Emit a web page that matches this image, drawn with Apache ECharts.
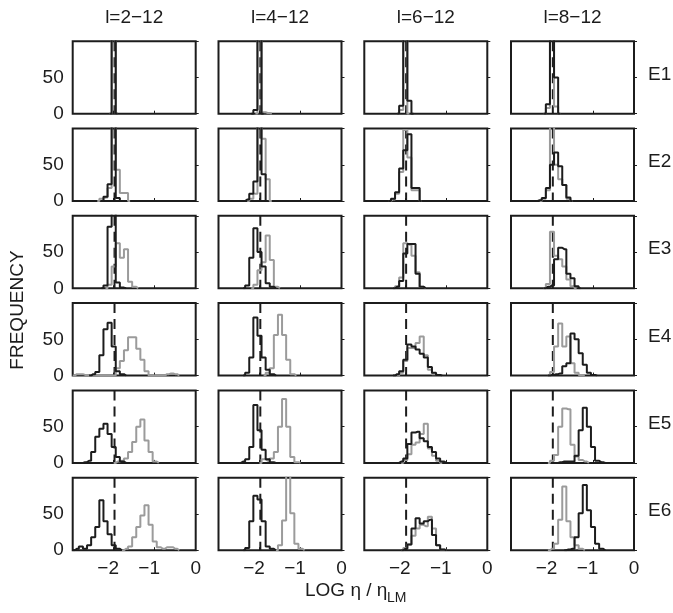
<!DOCTYPE html>
<html>
<head>
<meta charset="utf-8">
<script src="https://cdn.jsdelivr.net/npm/echarts/dist/echarts.min.js"></script>
<style>
  html, body { margin: 0; padding: 0; background: #fff; }
  #chart { width: 673px; height: 613px; }
</style>
</head>
<body>
<div id="chart"></div>
<script>
const colTitles = ['l=2\u221212', 'l=4\u221212', 'l=6\u221212', 'l=8\u221212'];
const rowNames = ['E1', 'E2', 'E3', 'E4', 'E5', 'E6'];
const binWidth = 0.1;
const refLog = -1.98;   // dashed reference line

// one entry per row E1..E6: [first bin centre, counts...]
const blackL2 = [
  [-2.0, 200],
  [-2.2, 6, 23, 200, 4],
  [-2.2, 4, 85, 200, 8, 1],
  [-2.5, 2, 5, 28, 64, 73, 40, 6, 2],
  [-2.7, 1, 3, 15, 36, 47, 54, 40, 22, 8, 2],
  [-2.9, 2, 5, 2, 7, 18, 32, 69, 40, 22, 7, 2]
];
const grayL2 = [
  [-2.0, 200],
  [-2.3, 3, 5, 18, 110, 43, 11, 11],
  [-2.1, 5, 30, 62, 42, 54, 9, 2],
  [-2.9, 2, 2, 1, 0, 0, 0, 0, 0, 0, 0, 10, 20, 35, 53, 53, 37, 22, 6, 0, 0, 0, 0, 2, 3, 2],
  [-1.9, 2, 3, 6, 15, 29, 50, 60, 31, 15, 2],
  [-1.7, 2, 5, 18, 32, 48, 62, 35, 12, 4, 2, 4, 4, 2]
];
const blackL4 = [
  [-2.1, 5, 200],
  [-2.3, 2, 10, 27, 200, 37],
  [-2.3, 4, 42, 83, 50, 30, 7, 2],
  [-2.3, 4, 25, 80, 55, 25, 8, 2],
  [-2.4, 2, 5, 22, 80, 45, 18, 5, 1],
  [-2.3, 3, 40, 75, 70, 40, 5, 2]
];
const grayL4 = [
  [-2.0, 190, 2, 1],
  [-2.2, 3, 10, 150, 86, 30],
  [-2.1, 5, 25, 36, 73, 39, 2],
  [-1.8, 4, 10, 56, 84, 56, 22, 2],
  [-1.9, 5, 3, 6, 15, 50, 88, 50, 8, 1],
  [-1.5, 7, 41, 115, 51, 9, 2]
];
const blackL6 = [
  [-2.1, 11, 200, 18],
  [-2.3, 3, 12, 45, 70, 92, 18, 18],
  [-2.2, 2, 10, 48, 61, 61, 20, 2],
  [-2.2, 2, 6, 22, 43, 40, 36, 30, 25, 12, 4, 1],
  [-2.1, 2, 6, 26, 42, 43, 34, 30, 22, 15, 6, 2],
  [-2.0, 2, 8, 30, 44, 37, 40, 42, 21, 7, 1]
];
const grayL6 = [
  [-2.1, 5, 190],
  [-2.3, 2, 10, 40, 98, 60, 15, 15],
  [-2.2, 3, 15, 62, 60, 45, 22, 2],
  [-2.1, 4, 20, 38, 38, 45, 54, 28, 8, 2],
  [-2.0, 4, 12, 25, 28, 40, 54, 20, 10, 3],
  [-2.0, 3, 8, 20, 30, 35, 33, 46, 30, 7, 1]
];
const blackL8 = [
  [-2.1, 13, 200, 50],
  [-2.3, 1, 4, 18, 50, 67, 48, 22, 5],
  [-2.1, 2, 4, 40, 56, 54, 20, 14, 3],
  [-2.0, 1, 2, 3, 13, 17, 58, 50, 31, 15, 4, 1],
  [-1.8, 1, 2, 2, 2, 10, 45, 76, 50, 22, 3, 1],
  [-1.6, 1, 2, 18, 51, 90, 55, 32, 9, 2]
];
const grayL8 = [
  [-2.1, 8, 180, 10],
  [-2.2, 3, 15, 110, 50, 30, 22, 3],
  [-2.1, 6, 78, 45, 40, 30, 12, 3],
  [-2.0, 5, 40, 72, 40, 54, 17, 4, 1],
  [-2.0, 3, 11, 50, 75, 74, 25, 9, 4, 2],
  [-2.0, 2, 9, 42, 88, 40, 18, 7, 2]
];

const blacks = [blackL2, blackL4, blackL6, blackL8];
const grays = [grayL2, grayL4, grayL6, grayL8];

const font = '"Liberation Sans", Arial, Helvetica, sans-serif';
const ink = '#1c1c1c';
const grayInk = '#9b9b9b';

const lefts = [72.7, 218.5, 364.3, 511];
const tops = [41.2, 128.5, 215.8, 303.1, 390.4, 477.7];
const panelW = 123;
const panelH = 72.5;

// histogram outline: zero-padded bin centres, drawn with step 'middle'
function toSteps(row) {
  const start = row[0];
  const counts = row.slice(1);
  const pts = [[+(start - binWidth).toFixed(2), 0]];
  counts.forEach((c, i) => pts.push([+(start + i * binWidth).toFixed(2), c]));
  pts.push([+(start + counts.length * binWidth).toFixed(2), 0]);
  return pts;
}

const chart = echarts.init(document.getElementById('chart'));

const grid = [], xAxis = [], yAxis = [], series = [], graphic = [];

for (let r = 0; r < 6; r++) {
  for (let c = 0; c < 4; c++) {
    const i = r * 4 + c;
    grid.push({
      left: lefts[c], top: tops[r], width: panelW, height: panelH,
      show: true, borderColor: ink, borderWidth: 2, backgroundColor: 'transparent'
    });
    xAxis.push({
      gridIndex: i, type: 'value', min: -3, max: 0, interval: 1,
      axisLine: { show: false },
      axisTick: { show: true, inside: true, length: 3, lineStyle: { color: ink, width: 1 } },
      splitLine: { show: false },
      axisLabel: {
        show: r === 5, margin: 9, fontSize: 19, fontFamily: font, color: ink,
        formatter: v => v === -3 ? '' : (v < 0 ? '{n|\u2212' + (-v) + '}' : String(v)),
        rich: { n: { fontSize: 19, fontFamily: font, color: ink, padding: [0, 11, 0, 0] } }
      }
    });
    yAxis.push({
      gridIndex: i, type: 'value', min: 0, max: 100, interval: 50,
      axisLine: { show: false },
      axisTick: { show: true, inside: true, length: 3, lineStyle: { color: ink, width: 1 } },
      splitLine: { show: false },
      axisLabel: {
        show: c === 0, margin: 9, fontSize: 19, fontFamily: font, color: ink,
        formatter: v => v === 100 ? '' : String(v)
      }
    });
    series.push({
      type: 'line', xAxisIndex: i, yAxisIndex: i, symbol: 'none', silent: true,
      data: [[refLog, 100], [refLog, 0]],
      lineStyle: { color: ink, width: 2, type: [10, 6] }, z: 1
    });
    series.push({
      type: 'line', xAxisIndex: i, yAxisIndex: i, symbol: 'none', silent: true,
      step: 'middle', data: toSteps(grays[c][r]),
      lineStyle: { color: grayInk, width: 2 }, z: 2
    });
    series.push({
      type: 'line', xAxisIndex: i, yAxisIndex: i, symbol: 'none', silent: true,
      step: 'middle', data: toSteps(blacks[c][r]),
      lineStyle: { color: ink, width: 2 }, z: 3
    });
  }
}

colTitles.forEach((t, c) => {
  graphic.push({
    type: 'text', x: lefts[c] + panelW / 2, y: 17.5,
    style: { text: t, fontSize: 19, fontFamily: font, fill: ink, textAlign: 'center', textVerticalAlign: 'middle' }
  });
});
rowNames.forEach((t, r) => {
  graphic.push({
    type: 'text', x: 648, y: tops[r] + panelH / 2 - 3,
    style: { text: t, fontSize: 19, fontFamily: font, fill: ink, textAlign: 'left', textVerticalAlign: 'middle' }
  });
});
graphic.push({
  type: 'text', x: 17.5, y: 310, rotation: Math.PI / 2,
  style: { text: 'FREQUENCY', fontSize: 19, fontFamily: font, fill: ink, textAlign: 'center', textVerticalAlign: 'middle' }
});
graphic.push({
  type: 'text', x: 305, y: 591,
  style: { text: 'LOG \u03b7 / \u03b7', fontSize: 19, fontFamily: font, fill: ink, textAlign: 'left', textVerticalAlign: 'middle' }
});
graphic.push({
  type: 'text', x: 387, y: 598,
  style: { text: 'LM', fontSize: 14, fontFamily: font, fill: ink, textAlign: 'left', textVerticalAlign: 'middle' }
});

chart.setOption({
  animation: false,
  grid, xAxis, yAxis, series, graphic
});
</script>
</body>
</html>
